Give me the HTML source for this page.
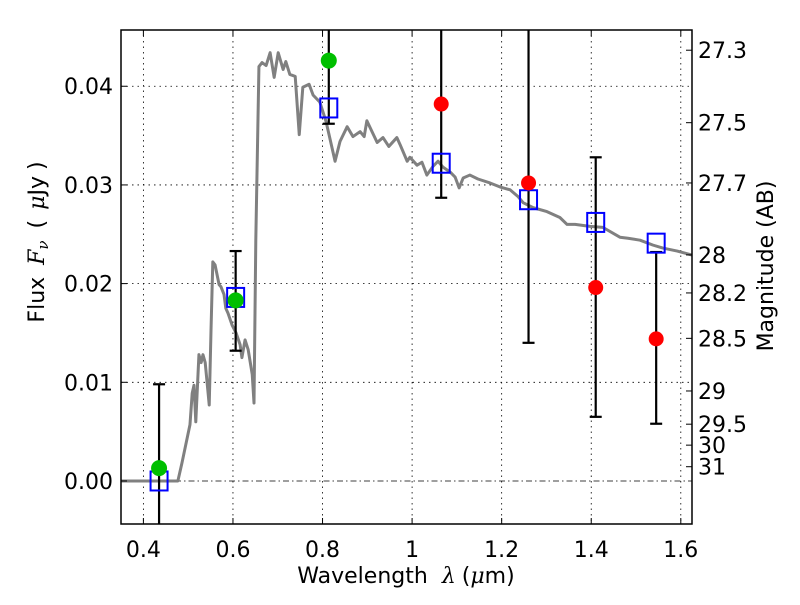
<!DOCTYPE html>
<html><head><meta charset="utf-8"><style>
body{margin:0;background:#fff;}
svg text{font-family:"DejaVu Sans","Liberation Sans",sans-serif;}
</style></head><body>
<svg id="chart" width="800" height="600" xmlns="http://www.w3.org/2000/svg"></svg>
<script>
const specLam=[0.35,0.477,0.486,0.504,0.509,0.513,0.517,0.524,0.529,0.533,0.538,0.547,0.551,0.555,0.560,0.569,0.573,0.580,0.584,0.589,0.598,0.607,0.616,0.620,0.627,0.634,0.643,0.647,0.651,0.658,0.665,0.674,0.683,0.692,0.701,0.712,0.718,0.727,0.739,0.748,0.756,0.770,0.779,0.794,0.808,0.828,0.839,0.855,0.868,0.884,0.893,0.899,0.922,0.935,0.948,0.966,0.973,0.989,0.995,1.011,1.022,1.033,1.047,1.058,1.069,1.085,1.096,1.105,1.114,1.129,1.147,1.174,1.196,1.219,1.237,1.248,1.270,1.301,1.330,1.346,1.364,1.397,1.426,1.464,1.482,1.509,1.538,1.560,1.592,1.625];
const specFlux=[0,0,.0018,.0057,.0089,.0097,.0060,.0128,.0120,.0128,.0120,.0077,.0153,.0222,.0219,.0199,.0197,.0189,.0175,.0170,.0158,.0150,.0138,.0125,.0143,.0133,.0108,.0079,.0244,.0420,.0424,.0421,.0434,.0409,.0434,.0417,.0425,.0412,.0410,.0351,.0399,.0402,.0391,.0384,.0364,.0324,.0344,.0359,.0349,.0354,.0349,.0365,.0343,.0348,.0339,.0348,.0341,.0324,.0328,.0320,.0323,.0310,.0319,.0324,.0318,.0313,.0308,.0297,.0307,.0310,.0306,.0302,.0298,.0295,.0288,.0282,.0277,.0273,.0267,.0260,.0260,.0258,.0257,.0247,.0246,.0244,.0239,.0236,.0233,.0229];
const greenLam=[0.435,0.606,0.814];
const greenFlux=[0.0013,0.0183,0.0426];
const redLam=[1.065,1.26,1.41,1.545];
const redFlux=[0.0382,0.0302,0.0196,0.0144];
const modelLam=[0.435,0.606,0.814,1.065,1.26,1.41,1.545];
const modelFlux=[0.0000,0.0186,0.0378,0.0322,0.0285,0.0262,0.0241];
const errLam=[0.435,0.606,0.814,1.065,1.26,1.41,1.545];
const errLow=[-0.006,0.0132,0.0362,0.0287,0.0140,0.0065,0.0058];
const errHigh=[0.0098,0.0233,0.05,0.05,0.05,0.0328,0.0232];
const xTicks=[0.4,0.6,0.8,1.0,1.2,1.4,1.6];
const xTickLabels=["0.4","0.6","0.8","1","1.2","1.4","1.6"];
const yTicks=[0,0.01,0.02,0.03,0.04];
const yTickLabels=["0.00","0.01","0.02","0.03","0.04"];
const magTicks=[27.3,27.5,27.7,28,28.2,28.5,29,29.5,30,31];
const magTickLabels=["27.3","27.5","27.7","28","28.2","28.5","29","29.5","30","31"];

const L=121,R=692,T=30,B=524,X0=0.35,X1=1.625,Y0=-0.00436,Y1=0.0457;
const sx=v=>L+(v-X0)/(X1-X0)*(R-L);
const sy=v=>B-(v-Y0)/(Y1-Y0)*(B-T);
const svg=document.getElementById('chart');
const NS='http://www.w3.org/2000/svg';
function mk(tag,attrs,parent){const e=document.createElementNS(NS,tag);for(const k in attrs)e.setAttribute(k,attrs[k]);(parent||svg).appendChild(e);return e;}
const clip=mk('clipPath',{id:'pc'});mk('rect',{x:L,y:T,width:R-L,height:B-T},clip);

const grid=mk('g',{});


xTicks.forEach(t=>{mk('line',{x1:sx(t),x2:sx(t),y1:T,y2:B,stroke:'#000','stroke-width':0.8,'stroke-dasharray':'1.5,4'},grid);});
yTicks.forEach(t=>{if(t===0)return;mk('line',{x1:L,x2:R,y1:sy(t),y2:sy(t),stroke:'#000','stroke-width':0.8,'stroke-dasharray':'1.5,4'},grid);});
const zl=mk('line',{x1:L,x2:R,y1:sy(0),y2:sy(0),stroke:'#000','stroke-width':0.8,'stroke-dasharray':'6,3,1.5,3'});



const sp=mk('polyline',{points:specLam.map((l,i)=>sx(l)+','+sy(specFlux[i])).join(' '),fill:'none',stroke:'#808080','stroke-width':3,'clip-path':'url(#pc)','stroke-linejoin':'round'});



errLam.forEach((l,i)=>{
  const g=mk('g',{'clip-path':'url(#pc)'});
  
  
  mk('line',{x1:sx(l),x2:sx(l),y1:sy(errLow[i]),y2:sy(errHigh[i]),stroke:'#000','stroke-width':2.2},g);
  mk('line',{x1:sx(l)-6,x2:sx(l)+6,y1:sy(errLow[i]),y2:sy(errLow[i]),stroke:'#000','stroke-width':2.2},g);
  mk('line',{x1:sx(l)-6,x2:sx(l)+6,y1:sy(errHigh[i]),y2:sy(errHigh[i]),stroke:'#000','stroke-width':2.2},g);
});
modelLam.forEach((l,i)=>{
  const r=mk('rect',{x:sx(l)-8.5,y:sy(modelFlux[i])-9.5,width:17,height:19,fill:'none',stroke:'#0000ff','stroke-width':2});
  
  
});
greenLam.forEach((l,i)=>{
  const c=mk('circle',{cx:sx(l),cy:sy(greenFlux[i]),r:8,fill:'#00bf00'});
  
  
});
redLam.forEach((l,i)=>{
  const c=mk('circle',{cx:sx(l),cy:sy(redFlux[i]),r:7.5,fill:'#ff0000'});
  
  
});

const fr=mk('rect',{x:L,y:T,width:R-L,height:B-T,fill:'none',stroke:'#000','stroke-width':1.5});



xTicks.forEach((t,i)=>{
  mk('line',{x1:sx(t),x2:sx(t),y1:B,y2:B-6,stroke:'#000'});
  mk('line',{x1:sx(t),x2:sx(t),y1:T,y2:T+6,stroke:'#000'});
  const tx=mk('text',{x:sx(t),y:B+33,'font-size':22,'text-anchor':'middle'});
  tx.textContent=xTickLabels[i];
  
  
});
yTicks.forEach((t,i)=>{
  mk('line',{x1:L,x2:L+6,y1:sy(t),y2:sy(t),stroke:'#000'});
  const tx=mk('text',{x:L-8,y:sy(t)+8,'font-size':22,'text-anchor':'end'});
  tx.textContent=yTickLabels[i];
  
  
});
magTicks.forEach((m,i)=>{
  const f=Math.pow(10,(23.9-m)/2.5);
  const y=sy(f);
  mk('line',{x1:R,x2:R-6,y1:y,y2:y,stroke:'#000'});
  const tx=mk('text',{x:R+6,y:y+8,'font-size':22,'text-anchor':'start'});
  tx.textContent=magTickLabels[i];
  
  
});
</script>
<svg width="800" height="600" style="position:absolute;left:0;top:0" xmlns="http://www.w3.org/2000/svg">
<text x="406" y="583" font-size="22" text-anchor="middle" style="font-family:'DejaVu Sans',sans-serif">Wavelength<tspan dx="14" font-style="italic" font-family="DejaVu Serif">λ</tspan><tspan dx="6">(</tspan><tspan font-style="italic" font-family="DejaVu Serif">μ</tspan>m)</text>
<text transform="translate(44,242) rotate(-90)" font-size="22" text-anchor="middle" style="font-family:'DejaVu Sans',sans-serif">Flux<tspan dx="12" font-style="italic" font-family="DejaVu Serif">F</tspan><tspan font-size="15" dy="4" font-style="italic" font-family="DejaVu Serif">ν</tspan><tspan dy="-4" dx="12">(</tspan><tspan dx="10" font-style="italic" font-family="DejaVu Serif">μ</tspan>Jy<tspan dx="6">)</tspan></text>
<text transform="translate(773,266) rotate(-90)" font-size="22" text-anchor="middle" style="font-family:'DejaVu Sans',sans-serif">Magnitude (AB)</text>
</svg>
</body></html>
